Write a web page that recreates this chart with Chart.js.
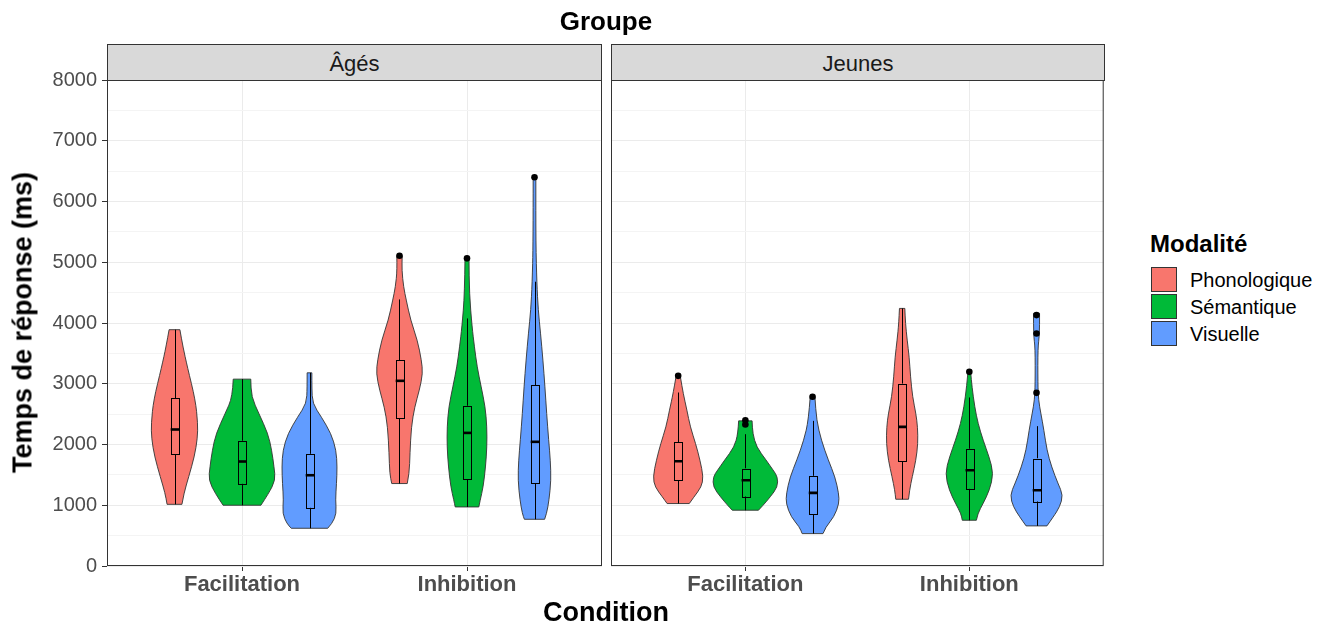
<!DOCTYPE html>
<html lang="fr">
<head>
  <meta charset="UTF-8">
  <title>Temps de réponse par groupe</title>
  <script src="https://cdn.jsdelivr.net/npm/chart.js"></script>
  <style>
    body {
      margin: 0;
      background: #fff;
      font-family: 'Liberation Sans', Arial, sans-serif;
    }

    #wrap {
      position: relative;
      width: 1333px;
      height: 628px;
      overflow: hidden;
    }

    canvas {
      position: absolute;
      top: 0;
    }

    #chartAges { left: 0; }
    #chartJeunes { left: 607px; }

    .txt {
      position: absolute;
      white-space: nowrap;
      line-height: 1;
    }

    .strip {
      position: absolute;
      top: 44px;
      height: 37px;
      box-sizing: border-box;
      background: #d9d9d9;
      border: 1px solid #333;
      color: #1a1a1a;
      font-size: 22px;
      line-height: 38px;
      text-align: center;
    }

    .key {
      position: absolute;
      left: 1151px;
      width: 26px;
      height: 25px;
      box-sizing: border-box;
      border: 1px solid #333;
    }
  </style>
</head>
<body>
  <div id="wrap">
    <canvas id="chartAges" width="607" height="628"></canvas>
    <canvas id="chartJeunes" width="500" height="628"></canvas>

    <div class="txt" style="left:306px; width:600px; top:8px; text-align:center; font-size:26px; font-weight:bold;">Groupe</div>
    <div class="strip" style="left:107px; width:495px;">Âgés</div>
    <div class="strip" style="left:611px; width:494px;">Jeunes</div>
    <div class="txt" style="left:306px; width:600px; top:599px; text-align:center; font-size:27px; font-weight:bold;">Condition</div>
    <div class="txt" style="left:-177px; width:400px; top:309px; text-align:center; font-size:27px; font-weight:bold; transform:rotate(-90deg);">Temps de réponse (ms)</div>

    <div class="txt" style="left:1150px; top:232px; font-size:24px; font-weight:bold;">Modalité</div>
    <div class="key" style="top:267px; background:#F8766D;"></div>
    <div class="key" style="top:294px; background:#00BA38;"></div>
    <div class="key" style="top:321px; background:#619CFF;"></div>
    <div class="txt" style="left:1190px; top:270px; font-size:20px;">Phonologique</div>
    <div class="txt" style="left:1190px; top:297px; font-size:20px;">Sémantique</div>
    <div class="txt" style="left:1190px; top:324px; font-size:20px;">Visuelle</div>
  </div>

  <script>
    const conditions = ['Facilitation', 'Inhibition'];
    const modalities = ['Phonologique', 'Sémantique', 'Visuelle'];
    const rtTicks = [0, 1000, 2000, 3000, 4000, 5000, 6000, 7000, 8000];

    // violin outlines: [temps (ms), densité en % de la largeur max]
    const agesFacPhono = [[1015, 22], [1200, 28], [1466, 42], [1800, 59], [2100, 68], [2350, 69], [2730, 62], [3280, 38], [3610, 25], [3890, 16]];
    const agesFacSem = [[1000, 56], [1193, 79], [1412, 99], [1630, 95], [1906, 88], [2180, 77], [2510, 50], [2785, 28], [3076, 26]];
    const agesFacVis = [[621, 54], [698, 67], [863, 80], [1082, 77], [1357, 80], [1630, 82], [1906, 79], [2180, 64], [2455, 35], [2675, 9], [2930, 7], [3180, 7]];
    const agesInhPhono = [[1357, 23], [1522, 29], [1852, 31], [2290, 35], [2620, 45], [2895, 59], [3170, 69], [3389, 65], [3718, 53], [4047, 33], [4377, 20], [4597, 12], [4870, 7], [5107, 8]];
    const agesInhSem = [[972, 35], [1082, 39], [1301, 48], [1630, 55], [1960, 59], [2290, 59], [2620, 54], [2949, 42], [3278, 30], [3608, 22], [3937, 15], [4487, 7], [5064, 6]];
    const agesInhVis = [[769, 30], [863, 36], [1082, 43], [1412, 49], [1741, 47], [2071, 42], [2510, 36], [2949, 31], [3389, 25], [3828, 18], [4213, 11], [4652, 7], [5311, 4], [6398, 4]];

    const jeunesFacPhono = [[1028, 33], [1137, 47], [1301, 69], [1466, 75], [1741, 65], [2016, 52], [2290, 36], [2565, 26], [2840, 15], [3100, 7]];
    const jeunesFacSem = [[918, 39], [1000, 53], [1137, 74], [1301, 96], [1466, 96], [1576, 83], [1741, 62], [1960, 33], [2180, 22], [2389, 20]];
    const jeunesFacVis = [[533, 31], [643, 39], [808, 64], [1028, 79], [1192, 78], [1466, 67], [1741, 47], [2071, 26], [2400, 12], [2785, 7]];
    const jeunesInhPhono = [[1099, 19], [1247, 22], [1466, 30], [1741, 41], [2016, 47], [2290, 46], [2510, 41], [2785, 31], [3114, 25], [3443, 21], [3718, 15], [3993, 10], [4240, 8]];
    const jeunesInhSem = [[753, 21], [863, 25], [1028, 41], [1247, 60], [1522, 72], [1796, 59], [2071, 41], [2345, 26], [2620, 16], [2949, 8], [3196, 4]];
    const jeunesInhVis = [[660, 31], [808, 50], [972, 69], [1165, 79], [1357, 64], [1630, 45], [1906, 31], [2236, 22], [2510, 13], [2730, 6], [3000, 4], [3600, 4], [3800, 9], [4158, 9]];

    // boxplots, order: Fac-Phono, Fac-Sem, Fac-Vis, Inh-Phono, Inh-Sem, Inh-Vis
    const agesLower = [1015, 1000, 621, 1357, 972, 769];
    const agesQ1 = [1835, 1357, 962, 2428, 1428, 1357];
    const agesMedian = [2247, 1720, 1494, 3048, 2191, 2044];
    const agesQ3 = [2763, 2060, 1845, 3389, 2636, 2977];
    const agesUpper = [3890, 3076, 3180, 4388, 4075, 4680];
    const agesOutliers = [[], [], [], [5107], [5064], [6398]];

    const jeunesLower = [1028, 918, 533, 1099, 753, 660];
    const jeunesQ1 = [1412, 1148, 852, 1725, 1274, 1066];
    const jeunesMedian = [1725, 1412, 1203, 2290, 1577, 1247];
    const jeunesQ3 = [2033, 1604, 1483, 3000, 1928, 1769];
    const jeunesUpper = [2856, 2170, 2389, 4240, 2774, 2302];
    const jeunesOutliers = [[3130], [2330, 2400], [2785], [], [3196], [2850, 3828, 4130]];

    const fills = ['#F8766D', '#00BA38', '#619CFF'];
    const FONT = "'Liberation Sans', Arial, sans-serif";
    const DODGE = 0.3;
    const MAX_HALF = 0.15;
    const BOX_HALF = 0.017;

    const centerOf = k => Math.floor(k / 3) + 1 + (k % 3 - 1) * DODGE;

    // quadratic smoothing through a list of pixel points
    function smoothTo(ctx, pts) {
      for (let i = 1; i < pts.length - 1; i++) {
        const mx = (pts[i][0] + pts[i + 1][0]) / 2;
        const my = (pts[i][1] + pts[i + 1][1]) / 2;
        ctx.quadraticCurveTo(pts[i][0], pts[i][1], mx, my);
      }
      const last = pts[pts.length - 1];
      ctx.lineTo(last[0], last[1]);
    }

    function violinPlugin(profiles, stats) {
      return {
        id: 'violins',
        beforeDatasetsDraw(chart) {
          const { ctx, chartArea, scales: { x, y } } = chart;
          ctx.save();
          ctx.beginPath();
          ctx.rect(chartArea.left, chartArea.top, chartArea.width, chartArea.height);
          ctx.clip();

          profiles.forEach((prof, k) => {
            const c = centerOf(k);
            const cx = x.getPixelForValue(c);
            const hw = d => x.getPixelForValue(c + d / 100 * MAX_HALF) - cx;
            const right = prof.map(([v, d]) => [cx + hw(d), y.getPixelForValue(v)]);
            const left = prof.map(([v, d]) => [cx - hw(d), y.getPixelForValue(v)]).reverse();

            ctx.beginPath();
            ctx.moveTo(left[left.length - 1][0], left[left.length - 1][1]);
            ctx.lineTo(right[0][0], right[0][1]);
            smoothTo(ctx, right);
            ctx.lineTo(left[0][0], left[0][1]);
            smoothTo(ctx, left);
            ctx.closePath();
            ctx.fillStyle = fills[k % 3];
            ctx.fill();
            ctx.strokeStyle = '#333';
            ctx.lineWidth = 0.9;
            ctx.stroke();

            // box + whiskers
            const lx = Math.round(cx) + 0.5;
            const bl = x.getPixelForValue(c - BOX_HALF);
            const br = x.getPixelForValue(c + BOX_HALF);
            const yLo = y.getPixelForValue(stats.lower[k]);
            const yQ1 = y.getPixelForValue(stats.q1[k]);
            const yMed = y.getPixelForValue(stats.median[k]);
            const yQ3 = y.getPixelForValue(stats.q3[k]);
            const yHi = y.getPixelForValue(stats.upper[k]);

            ctx.strokeStyle = '#000';
            ctx.lineWidth = 1;
            ctx.beginPath();
            ctx.moveTo(lx, yLo); ctx.lineTo(lx, yQ1);
            ctx.moveTo(lx, yQ3); ctx.lineTo(lx, yHi);
            ctx.stroke();

            ctx.fillStyle = fills[k % 3];
            ctx.fillRect(bl, yQ3, br - bl, yQ1 - yQ3);
            ctx.strokeRect(Math.round(bl) + 0.5, Math.round(yQ3) + 0.5, Math.round(br - bl), Math.round(yQ1 - yQ3));

            ctx.lineWidth = 2.6;
            ctx.beginPath();
            ctx.moveTo(bl, yMed); ctx.lineTo(br + 1, yMed);
            ctx.stroke();
          });
          ctx.restore();
        },
        afterDraw(chart) {
          const { ctx, chartArea } = chart;
          ctx.save();
          ctx.strokeStyle = '#333';
          ctx.lineWidth = 1;
          ctx.strokeRect(chartArea.left + 0.5, chartArea.top + 0.5, chartArea.width - 1, chartArea.height - 1);
          ctx.restore();
        }
      };
    }

    function outlierPoints(list) {
      const pts = [];
      list.forEach((vals, k) => vals.forEach(v => pts.push({ x: centerOf(k), y: v })));
      return pts;
    }

    function xScale() {
      return {
        type: 'linear',
        min: 0.4,
        max: 2.6,
        afterBuildTicks: s => { s.ticks = conditions.map((c, i) => ({ value: i + 1 })); },
        ticks: {
          autoSkip: false,
          maxRotation: 0,
          padding: 1,
          color: '#4d4d4d',
          font: { family: FONT, size: 22, weight: 'bold' },
          callback: v => conditions[v - 1]
        },
        grid: { color: '#ebebeb', lineWidth: 1, tickColor: '#333', tickLength: 5 },
        border: { display: false },
        afterFit: s => { s.height = 62; }
      };
    }

    function yScale(withLabels) {
      return {
        min: 0,
        max: 8000,
        ticks: {
          display: withLabels,
          stepSize: 500,
          autoSkip: false,
          padding: 5,
          color: '#4d4d4d',
          font: { family: FONT, size: 20 },
          callback: v => rtTicks.includes(v) ? String(v) : ''
        },
        grid: {
          color: c => (c.tick && c.tick.value % 1000 === 0) ? '#ebebeb' : '#f4f4f4',
          lineWidth: 1,
          drawTicks: withLabels,
          tickLength: 5,
          tickColor: c => (c.tick && c.tick.value % 1000 === 0) ? '#333' : 'rgba(0,0,0,0)'
        },
        border: { display: false },
        afterFit: s => { s.width = withLabels ? 107 : 0; }
      };
    }

    function makeChart(id, profiles, stats, outliers, padding, withLabels) {
      return new Chart(document.getElementById(id), {
        type: 'scatter',
        data: {
          datasets: [{
            data: outlierPoints(outliers),
            backgroundColor: '#000',
            borderColor: '#000',
            borderWidth: 0,
            pointRadius: 3.3,
            pointHoverRadius: 3.3
          }]
        },
        options: {
          responsive: false,
          animation: false,
          events: [],
          layout: { padding },
          plugins: { legend: { display: false }, tooltip: { enabled: false } },
          scales: { x: xScale(), y: yScale(withLabels) }
        },
        plugins: [violinPlugin(profiles, stats)]
      });
    }

    makeChart('chartAges',
      [agesFacPhono, agesFacSem, agesFacVis, agesInhPhono, agesInhSem, agesInhVis],
      { lower: agesLower, q1: agesQ1, median: agesMedian, q3: agesQ3, upper: agesUpper },
      agesOutliers,
      { top: 80, right: 5, bottom: 0, left: 0 }, true);

    makeChart('chartJeunes',
      [jeunesFacPhono, jeunesFacSem, jeunesFacVis, jeunesInhPhono, jeunesInhSem, jeunesInhVis],
      { lower: jeunesLower, q1: jeunesQ1, median: jeunesMedian, q3: jeunesQ3, upper: jeunesUpper },
      jeunesOutliers,
      { top: 80, right: 2, bottom: 0, left: 4 }, false);
  </script>
</body>
</html>
